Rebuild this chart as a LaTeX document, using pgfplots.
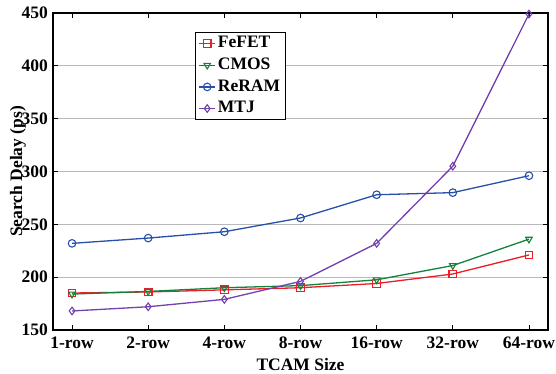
\documentclass[border=0pt]{standalone}
\usepackage{pgfplots}
\pgfplotsset{compat=1.18}
\usepackage{fontspec}
\setmainfont{Liberation Serif}
\definecolor{cfe}{RGB}{235,30,40}
\definecolor{ccm}{RGB}{20,130,60}
\definecolor{cre}{RGB}{40,80,170}
\definecolor{cmt}{RGB}{115,65,175}
\newcommand{\ff}{\fontsize{17.5}{20}\selectfont\bfseries}
\begin{document}
\ff
\begin{tikzpicture}
\begin{axis}[
  name=ax,
  scale only axis,
  width=495pt, height=317pt,
  xmin=-0.25, xmax=6.25,
  ymin=150, ymax=450,
  xtick={0,...,6},
  xticklabels={1-row,2-row,4-row,8-row,16-row,32-row,64-row},
  ytick={150,200,...,450},
  tick align=inside,
  major tick length=5pt,
  axis line style={line width=1.2pt},
  tick style={black, line width=0.8pt},
  ymajorgrids,
  grid style={gray!55, line width=0.8pt},
  xlabel={TCAM Size},
  ylabel={Search Delay (ps)},
  xlabel style={yshift=2pt},
  ylabel style={yshift=-16pt},
  xticklabel style={yshift=-1pt},
  yticklabel style={xshift=1pt},
  tick label style={font=\ff},
  label style={font=\ff},
  /pgf/number format/assume math mode=true,
  legend style={at={(0.287,0.94)}, anchor=north west, draw=black, line width=1pt,
    font=\ff, inner xsep=3pt, inner ysep=2pt, row sep=3.5pt, fill=white},
  legend cell align=left,
  legend image code/.code={\draw[mark repeat=2,mark phase=2] plot coordinates {(0pt,0pt) (8pt,0pt) (16pt,0pt)};},
  every axis plot/.append style={line width=1.3pt, mark size=3.8pt},
]
\addplot[cfe, mark=square, mark options={solid, fill=white, line width=1.1pt}] coordinates {(0,185) (1,186) (2,188) (3,190) (4,194) (5,203) (6,221)};
\addlegendentry{FeFET}
\addplot[ccm, mark=triangle, mark options={solid, fill=white, line width=1.1pt, rotate=180}] coordinates {(0,184) (1,186.5) (2,190) (3,192) (4,197.5) (5,211) (6,236)};
\addlegendentry{CMOS}
\addplot[cre, mark=o, mark options={solid, fill=white, line width=1.1pt}] coordinates {(0,232) (1,237) (2,243) (3,256) (4,278) (5,280) (6,296)};
\addlegendentry{ReRAM}
\addplot[cmt, mark=diamond, mark options={solid, fill=white, line width=1.1pt}] coordinates {(0,168) (1,172) (2,179) (3,196) (4,232) (5,305) (6,449)};
\addlegendentry{MTJ}
\end{axis}
\pgfresetboundingbox
\path ([xshift=-53pt,yshift=-44pt]ax.south west) rectangle ([xshift=8pt,yshift=13pt]ax.north east);
\end{tikzpicture}
\end{document}
